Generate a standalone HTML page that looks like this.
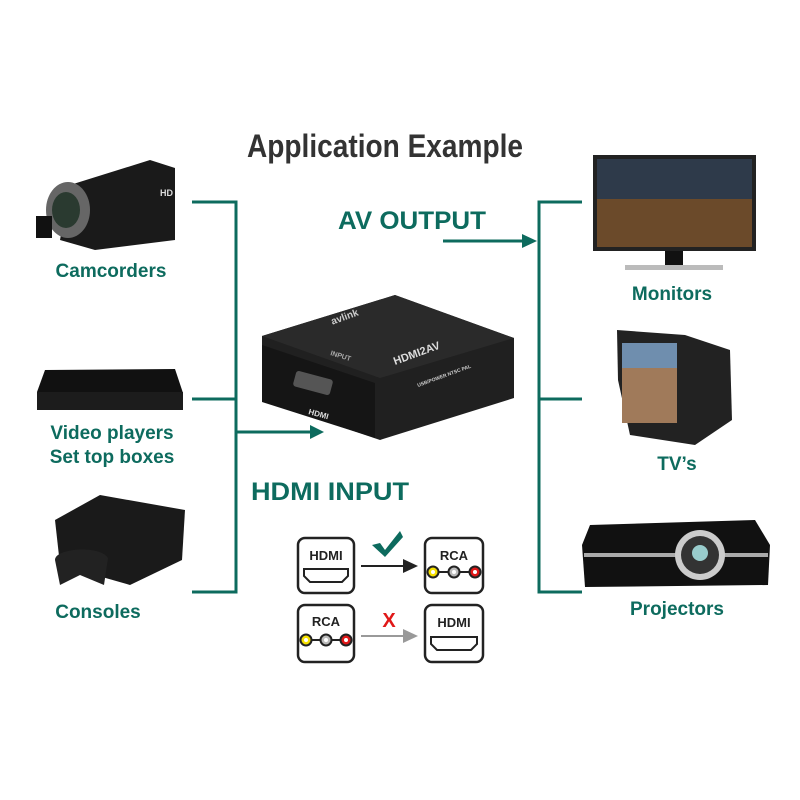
<!DOCTYPE html>
<html><head><meta charset="utf-8"><style>
html,body{margin:0;padding:0;background:#fff;width:800px;height:800px;overflow:hidden}
text{font-family:"Liberation Sans",sans-serif;font-weight:bold}
</style></head><body>
<svg width="800" height="800" viewBox="0 0 800 800" xmlns="http://www.w3.org/2000/svg">
<defs>
<marker id="ag" markerWidth="8" markerHeight="8" refX="7" refY="4" orient="auto" markerUnits="userSpaceOnUse"><path d="M0,0 L8,4 L0,8Z" fill="#0d6b5e"/></marker>
</defs>
<rect width="800" height="800" fill="#fff"/>
<text x="385" y="157" text-anchor="middle" font-size="32" fill="#333" textLength="276" lengthAdjust="spacingAndGlyphs">Application Example</text>

<!-- connectors -->
<g stroke="#0d6b5e" stroke-width="3" fill="none">
<path d="M192 202H236V592H192M192 399H236"/>
<path d="M582 202H539V592H582M582 399H539"/>
</g>
<line x1="236" y1="432" x2="312" y2="432" stroke="#0d6b5e" stroke-width="3"/>
<path d="M310 425L324 432L310 439Z" fill="#0d6b5e"/>
<line x1="443" y1="241" x2="524" y2="241" stroke="#0d6b5e" stroke-width="3"/>
<path d="M522 234L537 241L522 248Z" fill="#0d6b5e"/>

<text x="412" y="229" text-anchor="middle" font-size="25" fill="#0d6b5e" textLength="148" lengthAdjust="spacingAndGlyphs">AV OUTPUT</text>
<text x="330" y="500" text-anchor="middle" font-size="25" fill="#0d6b5e" textLength="158" lengthAdjust="spacingAndGlyphs">HDMI INPUT</text>

<g font-size="19" fill="#0d6b5e" text-anchor="middle">
<text x="111" y="277">Camcorders</text>
<text x="112" y="439">Video players</text>
<text x="112" y="463">Set top boxes</text>
<text x="98" y="618">Consoles</text>
<text x="672" y="300">Monitors</text>
<text x="677" y="470">TV’s</text>
<text x="677" y="615">Projectors</text>
</g>

<!-- camcorder -->
<path d="M70 185L150 160L175 168L175 240L95 250L60 240Z" fill="#1a1a1a"/>
<ellipse cx="68" cy="210" rx="22" ry="28" fill="#666"/>
<ellipse cx="66" cy="210" rx="14" ry="18" fill="#2a3a30"/>
<rect x="36" y="216" width="16" height="22" fill="#111"/>
<text x="160" y="196" font-size="9" fill="#ddd">HD</text>
<!-- bluray -->
<path d="M45 370L175 369L183 393L183 410L37 410L37 392Z" fill="#111"/>
<rect x="37" y="392" width="146" height="18" fill="#1c1c1c"/>
<!-- console -->
<path d="M55 520L100 495L185 510L182 560L130 585L60 565Z" fill="#1a1a1a"/>
<path d="M55 560C55 548 100 545 108 558L104 585L80 575L60 585Z" fill="#222"/>

<!-- monitor -->
<rect x="593" y="155" width="163" height="96" fill="#222"/>
<rect x="597" y="159" width="155" height="88" fill="#6b4a2a"/>
<rect x="597" y="159" width="155" height="40" fill="#2e3a4a"/>
<rect x="665" y="251" width="18" height="14" fill="#111"/>
<rect x="625" y="265" width="98" height="5" fill="#bbb"/>
<!-- TV -->
<path d="M617 330L685 335L730 350L732 420L695 445L630 435L618 380Z" fill="#222"/>
<rect x="622" y="343" width="55" height="80" fill="#a07a5a"/>
<rect x="622" y="343" width="55" height="25" fill="#6f8eae"/>
<!-- projector -->
<path d="M590 525L755 520L770 545L768 585L585 587L582 545Z" fill="#111"/>
<rect x="584" y="553" width="184" height="4" fill="#aaa"/>
<circle cx="700" cy="555" r="25" fill="#ccc"/>
<circle cx="700" cy="555" r="19" fill="#333"/>
<circle cx="700" cy="553" r="8" fill="#9cc"/>

<!-- center device -->
<path d="M262 336L395 295L514 338L514 398L380 440L262 400Z" fill="#202020"/>
<path d="M262 336L395 295L514 338L380 378Z" fill="#2a2a2a"/>
<path d="M262 345L375 383L375 438L262 402Z" fill="#151515"/>
<rect x="294" y="375" width="38" height="16" rx="3" fill="#555" transform="rotate(15 313 383)"/>
<text x="308" y="414" font-size="8" fill="#ddd" transform="rotate(15 308 414)">HDMI</text>
<text x="395" y="365" font-size="11" fill="#ddd" transform="rotate(-20 395 365)">HDMI2AV</text>
<text x="330" y="355" font-size="7" fill="#aaa" transform="rotate(17 330 355)">INPUT</text>
<text x="332" y="322" font-size="10" fill="#ccc" transform="rotate(-20 340 322)">avlink</text>
<text x="418" y="387" font-size="5" fill="#ccc" transform="rotate(-20 418 387)">USB/POWER NTSC PAL</text>

<!-- bottom icons -->
<g stroke="#222" stroke-width="2.5" fill="#fff">
<rect x="298" y="538" width="56" height="55" rx="7"/>
<rect x="425" y="538" width="58" height="55" rx="7"/>
<rect x="298" y="605" width="56" height="57" rx="7"/>
<rect x="425" y="605" width="58" height="57" rx="7"/>
</g>
<g font-size="13" fill="#222" text-anchor="middle">
<text x="326" y="560">HDMI</text>
<text x="454" y="560">RCA</text>
<text x="326" y="626">RCA</text>
<text x="454" y="627">HDMI</text>
</g>
<g fill="none" stroke="#222" stroke-width="2">
<path d="M304 569H348V576L342 582H310L304 576Z"/>
<path d="M431 637H477V644L471 650H437L431 644Z"/>
<path d="M432 572H476M305 640H347"/>
</g>
<g stroke="#222" stroke-width="2">
<circle cx="433" cy="572" r="5.5" fill="#f5e000"/><circle cx="454" cy="572" r="5.5" fill="#bbb"/><circle cx="475" cy="572" r="5.5" fill="#e01818"/>
<circle cx="306" cy="640" r="5.5" fill="#f5e000"/><circle cx="326" cy="640" r="5.5" fill="#bbb"/><circle cx="346" cy="640" r="5.5" fill="#e01818"/>
</g>
<g fill="#fff"><circle cx="433" cy="572" r="2"/><circle cx="454" cy="572" r="2"/><circle cx="475" cy="572" r="2"/><circle cx="306" cy="640" r="2"/><circle cx="326" cy="640" r="2"/><circle cx="346" cy="640" r="2"/></g>
<line x1="361" y1="566" x2="405" y2="566" stroke="#222" stroke-width="2"/>
<path d="M403 559L418 566L403 573Z" fill="#222"/>
<line x1="361" y1="636" x2="405" y2="636" stroke="#999" stroke-width="2"/>
<path d="M403 629L418 636L403 643Z" fill="#999"/>
<path d="M372 545L380 543L385 550L400 531L403 537L385 557Z" fill="#0d6b5e"/>
<text x="389" y="627" text-anchor="middle" font-size="20" fill="#e01818">X</text>
</svg>
</body></html>
